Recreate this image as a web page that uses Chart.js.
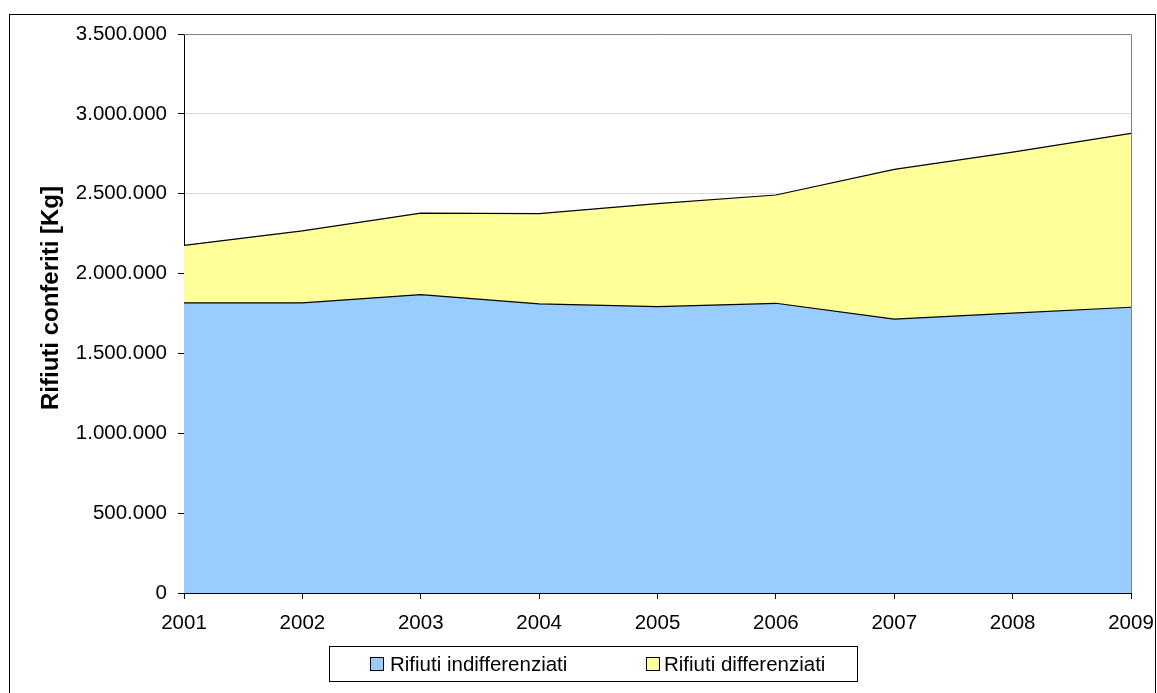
<!DOCTYPE html>
<html>
<head>
<meta charset="utf-8">
<script src="https://cdn.jsdelivr.net/npm/chart.js@4/dist/chart.umd.min.js"></script>
<style>
  html, body { margin: 0; padding: 0; background: #fff; }
  #wrap { width: 1157px; height: 693px; position: relative; }
</style>
</head>
<body>
<div id="wrap"><canvas id="c" width="1157" height="693"></canvas></div>
<script>
// Years on the horizontal axis
const years = ['2001', '2002', '2003', '2004', '2005', '2006', '2007', '2008', '2009'];
// Waste collected per year [Kg]
const indifferenziati = [1816000, 1816000, 1868000, 1810000, 1793000, 1814000, 1715000, 1752000, 1789000];
const differenziati   = [ 361000,  451000,  510000,  565000,  645000,  678000,  937000, 1008000, 1089000];
// Axis range
const yMax = 3500000;
const yStep = 500000;

const seriesLabels = ['Rifiuti indifferenziati', 'Rifiuti differenziati'];
const seriesColors = ['#99CCFF', '#FFFF99'];
const yTitle = 'Rifiuti conferiti [Kg]';

const FONT = 'Liberation Sans, Arial, sans-serif';

function fmt(v) {
  return String(v).replace(/\B(?=(\d{3})+(?!\d))/g, '.');
}

// Frame, plot border, axis title and boxed legend
const decor = {
  id: 'decor',
  beforeDraw(chart) {
    const ctx = chart.ctx;
    ctx.save();
    ctx.fillStyle = '#fff';
    ctx.fillRect(0, 0, chart.width, chart.height);
    ctx.restore();
  },
  afterDatasetsDraw(chart) {
    const ctx = chart.ctx;
    const a = chart.chartArea;
    ctx.save();
    // plot area border (top and right)
    ctx.strokeStyle = '#808080';
    ctx.lineWidth = 1;
    ctx.beginPath();
    ctx.moveTo(a.left, Math.round(a.top) + 0.5);
    ctx.lineTo(Math.round(a.right) + 0.5, Math.round(a.top) + 0.5);
    ctx.lineTo(Math.round(a.right) + 0.5, a.bottom);
    ctx.stroke();
    ctx.restore();
  },
  afterDraw(chart) {
    const ctx = chart.ctx;
    ctx.save();
    // outer frame
    ctx.strokeStyle = '#000';
    ctx.lineWidth = 1;
    ctx.strokeRect(9.5, 14.5, 1146, 700);

    // vertical axis title
    ctx.save();
    ctx.translate(58, 298);
    ctx.rotate(-Math.PI / 2);
    ctx.font = 'bold 24px ' + FONT;
    ctx.fillStyle = '#000';
    ctx.textAlign = 'center';
    ctx.textBaseline = 'alphabetic';
    ctx.fillText(yTitle, 0, 0);
    ctx.restore();

    // legend box
    const lx = 329.5, ly = 646.5, lw = 528, lh = 35;
    ctx.strokeRect(lx, ly, lw, lh);
    const items = [
      { sx: 370, tx: 390 },
      { sx: 646, tx: 664 }
    ];
    ctx.font = '20.5px ' + FONT;
    ctx.textBaseline = 'middle';
    ctx.textAlign = 'left';
    items.forEach((it, i) => {
      const ds = chart.data.datasets[i];
      ctx.fillStyle = ds.backgroundColor;
      ctx.fillRect(it.sx + 0.5, 657.5, 13, 13);
      ctx.strokeStyle = '#000';
      ctx.strokeRect(it.sx + 0.5, 657.5, 13, 13);
      ctx.fillStyle = '#000';
      ctx.fillText(ds.label, it.tx, 665);
    });
    ctx.restore();
  }
};

new Chart(document.getElementById('c'), {
  type: 'line',
  data: {
    labels: years,
    datasets: [
      {
        label: seriesLabels[0],
        data: indifferenziati,
        backgroundColor: seriesColors[0],
        borderColor: '#000',
        borderWidth: 1.2,
        fill: 'origin',
        pointRadius: 0,
        tension: 0
      },
      {
        label: seriesLabels[1],
        data: differenziati,
        backgroundColor: seriesColors[1],
        borderColor: '#000',
        borderWidth: 1.2,
        fill: '-1',
        pointRadius: 0,
        tension: 0
      }
    ]
  },
  options: {
    responsive: false,
    animation: false,
    layout: { padding: { left: 0, top: 34, right: 26, bottom: 0 } },
    plugins: {
      legend: { display: false },
      tooltip: { enabled: false },
      filler: { propagate: false }
    },
    scales: {
      x: {
        offset: false,
        grid: { display: true, drawOnChartArea: false, tickLength: 6, tickColor: '#000' },
        border: { display: true, color: '#000', width: 1 },
        ticks: {
          color: '#000',
          font: { family: FONT, size: 20.5 },
          padding: 12,
          maxRotation: 0,
          autoSkip: false
        },
        afterFit(scale) {
          scale.height = 100;
          scale.paddingLeft = 0;
          scale.paddingRight = 0;
        }
      },
      y: {
        stacked: true,
        min: 0,
        max: yMax,
        grid: { color: '#d9d9d9', tickLength: 6, tickColor: '#000', lineWidth: 1 },
        border: { display: true, color: '#000', width: 1 },
        ticks: {
          stepSize: yStep,
          color: '#000',
          font: { family: FONT, size: 20.5 },
          padding: 11,
          callback: (v) => fmt(v)
        },
        afterFit(scale) {
          scale.width = 184;
          scale.paddingTop = 0;
          scale.paddingBottom = 0;
        }
      }
    }
  },
  plugins: [decor]
});
</script>
</body>
</html>
